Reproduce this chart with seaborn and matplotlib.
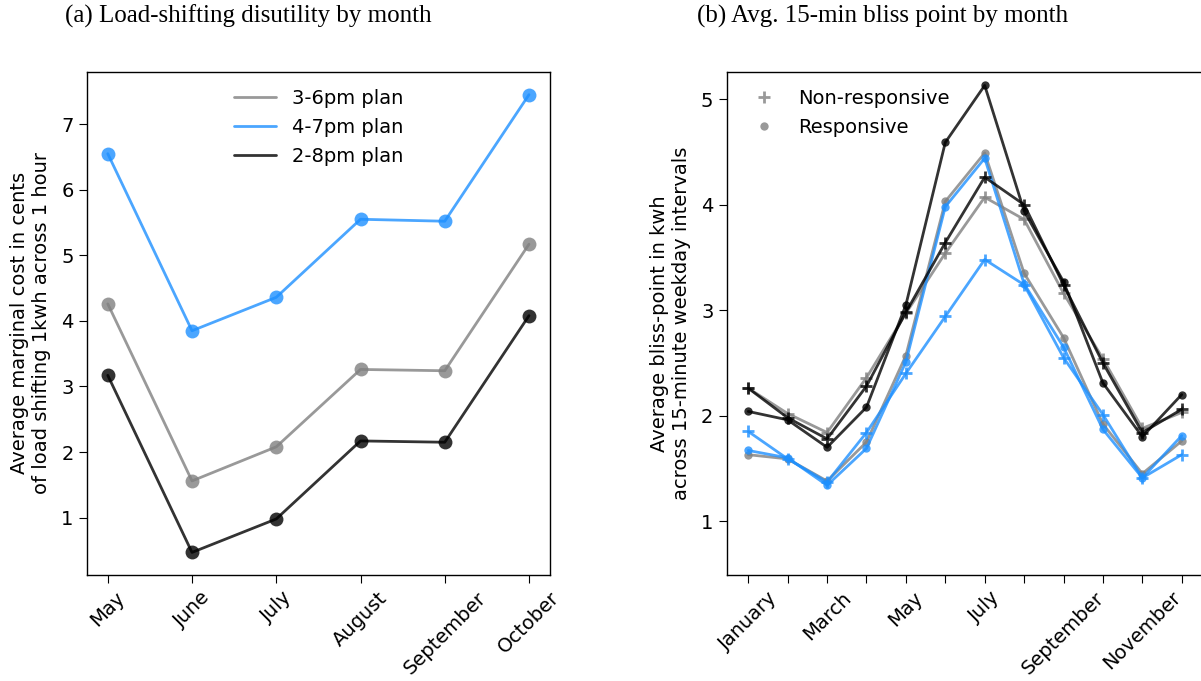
import matplotlib
matplotlib.use("Agg")
import matplotlib.pyplot as plt
from matplotlib.lines import Line2D
import seaborn as sns
import pandas as pd
import numpy as np

# ---- Panel (a) data ----
months_a = ["May", "June", "July", "August", "September", "October"]
plan_36 = [4.26, 1.56, 2.08, 3.26, 3.24, 5.17]
plan_47 = [6.55, 3.85, 4.36, 5.55, 5.52, 7.45]
plan_28 = [3.17, 0.47, 0.98, 2.17, 2.15, 4.08]

# ---- Panel (b) data ----
months_b = ["January", "February", "March", "April", "May", "June", "July",
            "August", "September", "October", "November", "December"]
gray_nonresp = [2.26, 2.02, 1.84, 2.36, 2.97, 3.54, 4.07, 3.86, 3.16, 2.54, 1.88, 2.03]
gray_resp = [1.63, 1.59, 1.38, 1.75, 2.57, 4.03, 4.49, 3.35, 2.74, 1.92, 1.45, 1.76]
blue_nonresp = [1.85, 1.59, 1.37, 1.84, 2.40, 2.94, 3.48, 3.24, 2.55, 2.01, 1.41, 1.63]
blue_resp = [1.67, 1.60, 1.34, 1.69, 2.51, 3.98, 4.44, 3.25, 2.65, 1.87, 1.41, 1.81]
black_nonresp = [2.26, 1.98, 1.78, 2.28, 2.98, 3.64, 4.26, 4.00, 3.24, 2.50, 1.84, 2.06]
black_resp = [2.04, 1.96, 1.70, 2.08, 3.05, 4.59, 5.13, 3.94, 3.27, 2.31, 1.80, 2.20]

plan_labels = ["3-6pm plan", "4-7pm plan", "2-8pm plan"]
colors = ["gray", "dodgerblue", "black"]

sns.set_style("ticks")
plt.rcParams["font.family"] = ["DejaVu Sans"]
plt.rcParams.update({"text.color": "black", "axes.labelcolor": "black",
                     "xtick.color": "black", "ytick.color": "black",
                     "axes.edgecolor": "black"})

fig = plt.figure(figsize=(12.01, 6.81), dpi=100)
ax1 = fig.add_axes([0.0722, 0.1557, 0.3858, 0.739])
ax2 = fig.add_axes([0.605, 0.1557, 0.397, 0.739])

FS = 14

# ---- Panel (a) ----
xa = np.arange(len(months_a))
for vals, lab, c in zip([plan_36, plan_47, plan_28], plan_labels, colors):
    df = pd.DataFrame({"x": xa, "y": vals})
    sns.lineplot(data=df, x="x", y="y", ax=ax1, color=c, alpha=0.8, lw=2,
                 marker="o", markersize=10, markeredgewidth=0, label=lab)
ax1.set_xlim(-0.25, 5.25)
ax1.set_ylim(0.126, 7.8)
ax1.set_xticks(xa)
ax1.set_xticklabels(months_a, rotation=45, fontsize=FS)
ax1.set_yticks(range(1, 8))
ax1.tick_params(axis="y", labelsize=FS)
ax1.set_xlabel("")
ax1.set_ylabel("Average marginal cost in cents\nof load shifting 1kwh across 1 hour",
               fontsize=FS, labelpad=7)
ax1.legend(loc="upper center", frameon=False, fontsize=FS, handlelength=2.2)
for h in ax1.get_legend().legend_handles:
    h.set_marker("")
    h.set_alpha(0.8)

# ---- Panel (b) ----
xb = np.arange(len(months_b))
series_b = [(gray_nonresp, gray_resp, "gray"),
            (blue_nonresp, blue_resp, "dodgerblue"),
            (black_nonresp, black_resp, "black")]
for nonresp, resp, c in series_b:
    dfn = pd.DataFrame({"x": xb, "y": nonresp})
    sns.lineplot(data=dfn, x="x", y="y", ax=ax2, color=c, alpha=0.8, lw=2,
                 marker="+", markersize=9, markeredgewidth=2, markeredgecolor=c)
    dfr = pd.DataFrame({"x": xb, "y": resp})
    sns.lineplot(data=dfr, x="x", y="y", ax=ax2, color=c, alpha=0.8, lw=2,
                 marker="o", markersize=6, markeredgewidth=0)
ax2.set_xlim(-0.55, 11.55)
ax2.set_ylim(0.49, 5.26)
ax2.set_xticks(xb)
ax2.set_xticklabels([m if i % 2 == 0 else "" for i, m in enumerate(months_b)],
                    rotation=45, fontsize=FS)
ax2.set_yticks(range(1, 6))
ax2.tick_params(axis="y", labelsize=FS)
ax2.set_xlabel("")
ax2.set_ylabel("Average bliss-point in kwh\nacross 15-minute weekday intervals",
               fontsize=FS, labelpad=7)
handles = [Line2D([], [], color="gray", alpha=0.8, marker="+", ls="", markersize=9,
                  markeredgewidth=2, markeredgecolor="gray"),
           Line2D([], [], color="gray", alpha=0.8, marker="o", ls="", markersize=6, markeredgewidth=0)]
ax2.legend(handles, ["Non-responsive", "Responsive"], loc="upper left", frameon=False, fontsize=FS)

for ax in (ax1, ax2):
    for s in ax.spines.values():
        s.set_visible(True)
        s.set_color("black")
        s.set_linewidth(1.0)
    ax.tick_params(length=6, color="black")

fig.text(248 / 1201, 1 - 16 / 681, "(a) Load-shifting disutility by month",
         family="Liberation Serif", fontsize=18, ha="center", va="center")
fig.text(883 / 1201, 1 - 16 / 681, "(b) Avg. 15-min bliss point by month",
         family="Liberation Serif", fontsize=18, ha="center", va="center")

fig.savefig("out.png", dpi=100)
